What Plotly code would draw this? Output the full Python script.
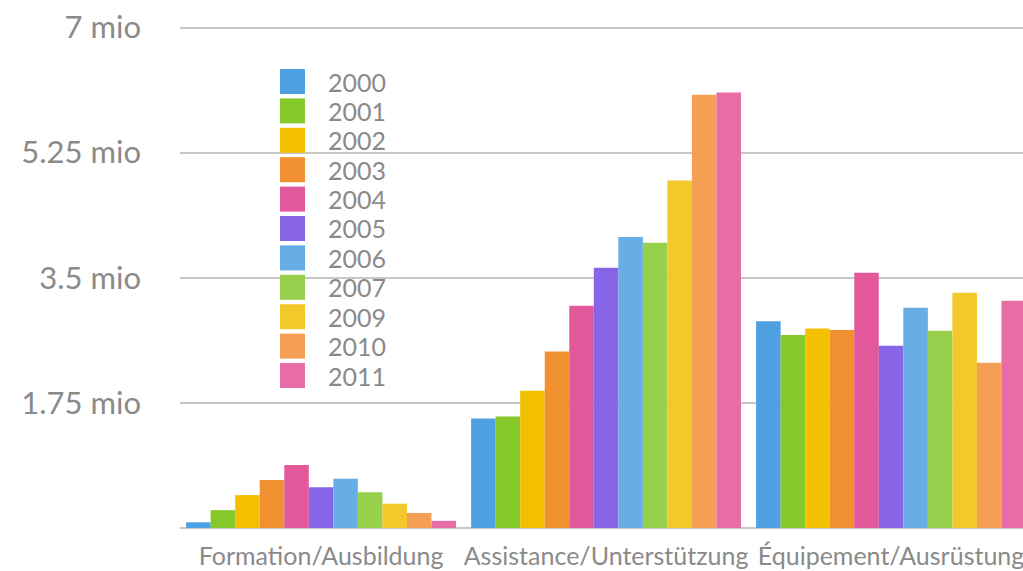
import plotly.graph_objects as go

categories = ["Formation/Ausbildung", "Assistance/Unterstützung", "Équipement/Ausrüstung"]
years = ["2000", "2001", "2002", "2003", "2004", "2005", "2006", "2007", "2009", "2010", "2011"]
colors = ["#4FA0E0", "#86C92B", "#F2C000", "#F19031", "#E3589A", "#8765E6",
          "#67ADE6", "#97D04C", "#F2C82A", "#F49F53", "#E86CA6"]

# values in millions, per year: [Formation, Assistance, Équipement]
values = {
    "2000": [0.08, 1.53, 2.89],
    "2001": [0.25, 1.56, 2.70],
    "2002": [0.46, 1.92, 2.79],
    "2003": [0.67, 2.47, 2.77],
    "2004": [0.88, 3.11, 3.57],
    "2005": [0.57, 3.64, 2.55],
    "2006": [0.69, 4.07, 3.08],
    "2007": [0.50, 3.99, 2.76],
    "2009": [0.34, 4.86, 3.29],
    "2010": [0.21, 6.06, 2.31],
    "2011": [0.10, 6.09, 3.18],
}

y_ticks = [0, 1.75, 3.5, 5.25, 7]
y_ticktext = ["", "1.75 mio", "3.5 mio", "5.25 mio", "7 mio"]

FONT = "Lato, sans-serif"
GRAY = "#8a8a8a"

fig = go.Figure()
for yr, col in zip(years, colors):
    fig.add_trace(go.Bar(name=yr, x=categories, y=values[yr], marker_color=col,
                         marker_line_width=0, showlegend=False))

W, H = 1023, 571
ml, mr, mt, mb = 180, 0, 20, 43

# manual legend with large square swatches
shapes = []
annotations = []
x0_px, size_px, top_px, pitch = 280, 25, 69, 29.4
pw, ph = W - ml - mr, H - mt - mb
for i, (yr, col) in enumerate(zip(years, colors)):
    t = top_px + i * pitch
    shapes.append(dict(type="rect", xref="paper", yref="paper",
                       x0=(x0_px - ml) / pw, x1=(x0_px + size_px - ml) / pw,
                       y0=1 - (t + size_px - mt) / ph, y1=1 - (t - mt) / ph,
                       fillcolor=col, line_width=0, layer="above"))
    annotations.append(dict(xref="paper", yref="paper", x=(326 - ml) / pw,
                            y=1 - (t + size_px / 2 - mt) / ph, text=yr, showarrow=False,
                            xanchor="left", yanchor="middle",
                            font=dict(family=FONT, size=25, color=GRAY)))

fig.update_layout(
    width=W, height=H,
    margin=dict(l=ml, r=mr, t=mt, b=mb),
    barmode="group", bargap=0.053, bargroupgap=0,
    plot_bgcolor="white", paper_bgcolor="white",
    shapes=shapes, annotations=annotations,
    xaxis=dict(range=[-0.495, 2.463], showgrid=False, showline=False, ticks="",
               tickfont=dict(family=FONT, size=25, color=GRAY), ticklabelstandoff=11),
    yaxis=dict(range=[0, 7.105], tickvals=y_ticks, ticktext=y_ticktext,
               showgrid=True, gridcolor="#c8c8c8", gridwidth=2,
               zeroline=True, zerolinecolor="#c8c8c8", zerolinewidth=2,
               showline=False, ticks="", ticklabelstandoff=38,
               tickfont=dict(family=FONT, size=31, color=GRAY)),
)

fig.write_html("out.html", config={"displayModeBar": False},
               post_script="document.body.style.margin='0';document.body.style.overflow='hidden';")
